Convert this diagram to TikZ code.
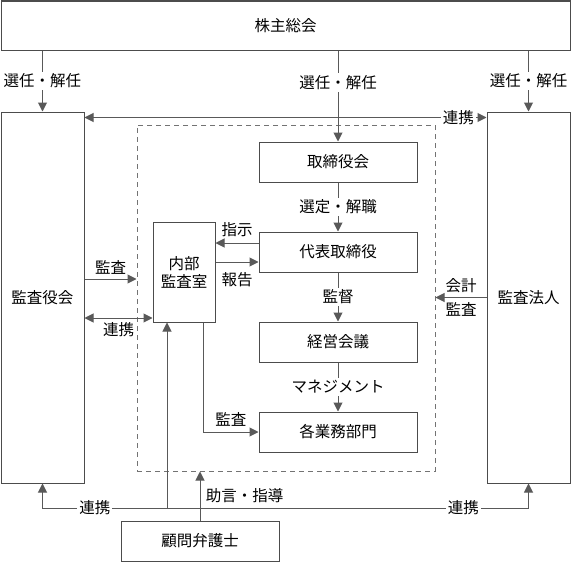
\documentclass[tikz,border=0pt]{standalone}
\usepackage{fontspec}
\setmainfont{Noto Sans CJK JP}
\usetikzlibrary{arrows.meta, positioning}

\tikzset{
  box/.style={draw=black!70, line width=1pt, inner sep=0pt, align=center,
              minimum width=158pt, minimum height=40pt},
  arr/.style={draw=black!65, line width=1pt, -{Triangle[length=9pt,width=9pt]}},
  dblarr/.style={draw=black!65, line width=1pt,
                 {Triangle[length=9pt,width=9pt]}-{Triangle[length=9pt,width=9pt]}},
  lbl/.style={fill=white, inner sep=2pt},
}

\begin{document}
\begin{tikzpicture}[x=1pt, y=-1pt, font=\fontsize{15.5}{18}\selectfont]
  \useasboundingbox (0,0) rectangle (571,562);

  % shareholders and the two audit bodies
  \node[box, minimum width=569pt, minimum height=49pt] (soukai) at (285.5,25.5) {株主総会};
  \node[box, minimum width=83pt, minimum height=371pt] (kansayaku) at (42.5,297.5) {監査役会};
  \node[box, minimum width=83pt, minimum height=371pt] (kansahojin) at (528.5,297.5) {監査法人};

  % execution side
  \node[draw=black!55, line width=1pt, dash pattern=on 5pt off 4pt,
        minimum width=298pt, minimum height=346pt] (shikko) at (286,298) {};
  \node[box] (torikai) at (338,162) {取締役会};
  \node[box] (daihyo) at (338,252) {代表取締役};
  \node[box] (keiei) at (338,342) {経営会議};
  \node[box] (gyomu) at (338,432) {各業務部門};
  \node[box, minimum width=62pt, minimum height=100pt] (naibu) at (184,272) {内部\\監査室};
  \node[box] (komon) at (200,541) {顧問弁護士};

  % appointment from the general meeting
  \draw[arr] (soukai.south -| kansayaku) -- node[lbl] {選任・解任} (kansayaku.north);
  \draw[arr] (soukai.south -| torikai) -- node[lbl, pos=0.35] {選任・解任} (torikai.north);
  \draw[arr] (soukai.south -| kansahojin) -- node[lbl] {選任・解任} (kansahojin.north);
  \draw[dblarr] ([yshift=-6pt]kansayaku.north east)
    -- node[lbl, pos=0.93] {連携} ([yshift=-6pt]kansahojin.north west);

  % main chain
  \draw[arr] (torikai) -- node[lbl] {選定・解職} (daihyo);
  \draw[arr] (daihyo) -- node[lbl] {監督} (keiei);
  \draw[arr] (keiei) -- node[lbl] {マネジメント} (gyomu);

  % internal audit
  \draw[arr] ([yshift=9pt]daihyo.west) -- ([yshift=9pt]daihyo.west -| naibu.east)
    node[midway, above=2pt] {指示};
  \draw[arr] ([yshift=-10pt]daihyo.west -| naibu.east) -- ([yshift=-10pt]daihyo.west)
    node[midway, below=7pt] {報告};
  \draw[arr] ([xshift=19pt]naibu.south) |- node[pos=0.75, above=2pt] {監査} (gyomu.west);

  % audit board and auditors
  \draw[arr] ([yshift=18.5pt]kansayaku.east) -- ([yshift=18.5pt]kansayaku.east -| shikko.west)
    node[midway, above=1pt] {監査};
  \draw[dblarr] ([yshift=-20.5pt]kansayaku.east) -- ([yshift=-20.5pt]kansayaku.east -| naibu.west)
    node[midway, below=1pt] {連携};
  \draw[arr] (kansahojin.west) -- (kansahojin.west -| shikko.east)
    node[midway, above=1pt] {会計} node[midway, below=1pt] {監査};

  % legal counsel and cooperation at the bottom
  \draw[arr] (komon.north) -- (komon.north |- shikko.south)
    node[midway, right=2pt] {助言・指導};
  \coordinate (renkei) at (167,508);
  \draw[arr] (renkei) -| node[lbl, pos=0.29] {連携} (kansayaku.south);
  \draw[arr] (renkei) -| node[lbl, pos=0.41] {連携} (kansahojin.south);
  \draw[arr] (renkei) -- (renkei |- naibu.south);
\end{tikzpicture}
\end{document}
